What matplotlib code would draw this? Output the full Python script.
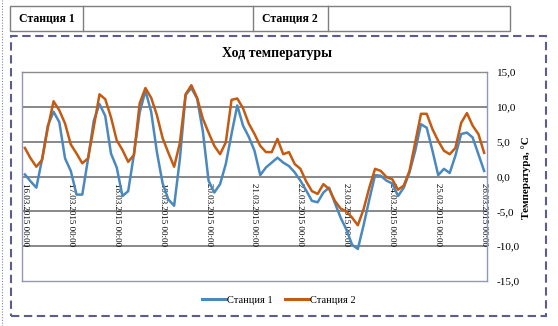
import numpy as np
import pandas as pd
import matplotlib
matplotlib.use("Agg")
import matplotlib.pyplot as plt
from matplotlib.patches import Rectangle
from matplotlib.lines import Line2D
from matplotlib.ticker import FuncFormatter
from matplotlib.transforms import offset_copy

plt.rcParams['font.family'] = ['Liberation Serif', 'DejaVu Serif']
plt.rcParams['axes.unicode_minus'] = False

# 3-hourly readings, 16.03.2015 00:00 .. 26.03.2015 00:00
times = pd.date_range('2015-03-16 00:00', '2015-03-26 00:00', freq='3h')

station1 = [
    0.3, -0.7, -1.6, 2.5, 7.3, 9.3, 7.8, 2.6,
    0.8, -2.6, -2.6, 2.5, 8.0, 10.4, 8.7, 3.3,
    1.3, -2.8, -2.1, 3.2, 9.2, 12.3, 9.3, 3.5,
    -1.0, -3.3, -4.2, 2.5, 11.7, 12.7, 11.2, 6.5,
    -0.6, -2.3, -1.1, 1.8, 6.1, 10.2, 7.3, 5.7,
    3.7, 0.2, 1.3, 2.0, 2.7, 2.0, 1.5, 0.6,
    -0.6, -2.0, -3.5, -3.7, -2.3, -1.6, -3.8, -5.9,
    -7.6, -9.8, -10.4, -7.0, -3.3, 0.2, 0.1, -0.6,
    -1.0, -2.8, -1.6, 0.6, 3.7, 7.5, 7.0, 3.7,
    0.2, 1.1, 0.5, 3.0, 6.1, 6.3, 5.6, 3.2,
    0.8,
]
station2 = [
    4.1, 2.6, 1.4, 2.4, 7.0, 10.8, 9.5, 7.6,
    4.6, 3.3, 1.9, 2.6, 7.1, 11.8, 11.1, 8.5,
    5.2, 3.8, 2.1, 3.1, 10.5, 12.7, 11.3, 8.8,
    5.5, 3.4, 1.4, 4.8, 11.8, 13.1, 11.3, 8.3,
    6.3, 4.4, 3.2, 4.9, 11.0, 11.2, 9.8, 7.6,
    6.1, 4.4, 3.5, 3.5, 5.4, 3.2, 3.5, 1.8,
    1.1, -0.7, -2.1, -2.5, -1.1, -1.8, -3.5, -4.6,
    -5.0, -5.9, -7.0, -4.7, -1.6, 1.1, 0.8, -0.1,
    -0.4, -1.9, -1.3, 0.8, 4.9, 9.0, 9.0, 6.8,
    5.1, 3.7, 3.2, 4.1, 7.7, 9.1, 7.3, 6.1,
    3.4,
]
y_ticks = [-15, -10, -5, 0, 5, 10, 15]

W, H = 558, 326


def fx(px):
    return px / W


def fy(py):
    return 1 - py / H


fig = plt.figure(figsize=(W / 100, H / 100), dpi=100)
fig.patch.set_facecolor('white')

# header table
tab_col = '#7f7f7f'
fig.add_artist(Rectangle((fx(10), fy(31)), fx(510) - fx(10), fy(6) - fy(31),
                         transform=fig.transFigure, fill=False,
                         edgecolor=tab_col, lw=1.0))
for px in (83, 253, 328):
    fig.add_artist(Line2D([fx(px), fx(px)], [fy(6), fy(31)],
                          transform=fig.transFigure, color=tab_col, lw=1.0))
fig.text(fx(19), fy(18.5), 'Станция 1', fontsize=8.5, fontweight='bold',
         va='center', ha='left')
fig.text(fx(262), fy(18.5), 'Станция 2', fontsize=8.5, fontweight='bold',
         va='center', ha='left')

# dotted edge on the left and dashed frame around the chart
fig.add_artist(Line2D([fx(1.5), fx(1.5)], [0, 1], transform=fig.transFigure,
                      color='#8080b0', lw=0.8, ls=(0, (1, 1.5))))
fig.add_artist(Rectangle((fx(11), fy(316)), fx(546) - fx(11), fy(36) - fy(316),
                         transform=fig.transFigure, fill=False,
                         edgecolor='#5c5c8e', lw=1.5, ls=(0, (4, 2.2))))

ax = fig.add_axes([fx(22), fy(281), fx(487) - fx(22), fy(72) - fy(281)])
x = np.arange(len(times))
ax.plot(x, station1, color='#4a89bf', lw=1.8, label='Станция 1')
ax.plot(x, station2, color='#c55a11', lw=1.8, label='Станция 2')

ax.set_xlim(-0.5, len(times) - 0.5)
ax.set_ylim(-15, 15)
ax.set_yticks(y_ticks)
ax.yaxis.tick_right()
ax.yaxis.set_major_formatter(FuncFormatter(lambda v, p: f'{v:.1f}'.replace('.', ',')))
ax.tick_params(axis='y', length=0, pad=7, labelsize=8)
ax.set_xticks([])
for v in y_ticks[1:-1]:
    ax.axhline(v, color='#7f7f7f', lw=1.3, zorder=0)

for side in ('left', 'right', 'bottom'):
    ax.spines[side].set_color('#9494c0')
    ax.spines[side].set_linewidth(1.0)
ax.spines['top'].set_color('#8c8c8c')
ax.spines['top'].set_linewidth(1.0)

# date labels hang from the zero line
lab_tr = offset_copy(ax.transData, fig=fig, x=0, y=-5, units='points')
for i, t in enumerate(times):
    if t.hour == 0:
        ax.text(i, 0, t.strftime('%d.%m.%Y %H:%M'), transform=lab_tr,
                rotation=-90, ha='center', va='top', fontsize=6.5, zorder=1)

fig.text(fx(277), fy(53), 'Ход температуры', fontsize=10, fontweight='bold',
         ha='center', va='center')
fig.text(fx(526), fy(178), 'Температура, °С', fontsize=8, fontweight='bold',
         rotation=90, ha='center', va='center')

leg = fig.legend(loc='center', bbox_to_anchor=(fx(279), fy(300)), ncol=2,
                 frameon=False, fontsize=7.5, handlelength=2.3,
                 handletextpad=0.1, columnspacing=1.2)
for h in leg.get_lines():
    h.set_linewidth(2.2)

fig.savefig('out.png', dpi=100, facecolor='white')
